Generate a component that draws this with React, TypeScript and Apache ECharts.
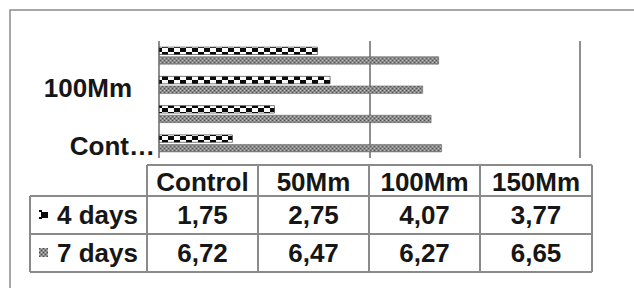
import React, { useEffect, useRef } from "react";
import * as echarts from "echarts";

const categories = ["Control", "50Mm", "100Mm", "150Mm"];
const seriesNames = ["4 days", "7 days"];
const days4 = [1.75, 2.75, 4.07, 3.77];
const days7 = [6.72, 6.47, 6.27, 6.65];
const xMin = 0;
const xMax = 10;
const xStep = 5;

function makeChecker(): HTMLCanvasElement {
  const c = document.createElement("canvas");
  c.width = 12;
  c.height = 8;
  const g = c.getContext("2d")!;
  g.fillStyle = "#ffffff";
  g.fillRect(0, 0, 12, 8);
  g.fillStyle = "#0a0a0a";
  g.fillRect(0, 0, 6, 4);
  g.fillRect(6, 4, 6, 4);
  return c;
}

function makeKey4(): HTMLCanvasElement {
  const c = document.createElement("canvas");
  c.width = 9;
  c.height = 9;
  const g = c.getContext("2d")!;
  g.fillStyle = "#ffffff";
  g.fillRect(0, 0, 9, 9);
  g.fillStyle = "#0a0a0a";
  g.fillRect(2, 2, 7, 6);
  g.fillRect(0, 0, 3, 2);
  g.fillRect(0, 7, 3, 2);
  return c;
}

function makeGray(): HTMLCanvasElement {
  const c = document.createElement("canvas");
  c.width = 4;
  c.height = 4;
  const g = c.getContext("2d")!;
  g.fillStyle = "#8a8a8a";
  g.fillRect(0, 0, 4, 4);
  g.fillStyle = "#505050";
  g.fillRect(0, 0, 1, 1);
  g.fillRect(2, 2, 1, 1);
  g.fillStyle = "#c0c0c0";
  g.fillRect(2, 0, 1, 1);
  g.fillRect(0, 2, 1, 1);
  return c;
}

const fmt = (v: number) => v.toFixed(2).replace(".", ",");

export default function App() {
  const ref = useRef<HTMLDivElement>(null);
  useEffect(() => {
    if (!ref.current) return;
    const chart = echarts.init(ref.current, null, { renderer: "svg" });
    const checker = { image: makeChecker(), repeat: "repeat" } as any;
    const key4 = { image: makeKey4(), repeat: "repeat" } as any;
    const gray = { image: makeGray(), repeat: "repeat" } as any;
    const font = "'Liberation Sans', Arial, sans-serif";
    const textColor = "#161616";
    const lineColor = "#8a8a8a";

    const colX = [147, 258, 369, 480, 592];
    const rowY = [165, 196, 234, 272];
    const tableLeft = 30;

    const graphics: any[] = [];
    graphics.push({
      type: "rect",
      shape: { x: 10, y: 10, width: 700, height: 400 },
      style: { fill: "none", stroke: "#8c8c8c", lineWidth: 1.5 },
      z: 1,
    });
    const L = (x1: number, y1: number, x2: number, y2: number) =>
      graphics.push({
        type: "line",
        shape: { x1, y1, x2, y2 },
        style: { stroke: lineColor, lineWidth: 2 },
        z: 5,
      });
    L(colX[0], rowY[0], colX[4], rowY[0]);
    for (let i = 1; i < rowY.length; i++) L(tableLeft, rowY[i], colX[4], rowY[i]);
    L(tableLeft, rowY[1], tableLeft, rowY[3]);
    colX.forEach((x) => L(x, rowY[0], x, rowY[3]));

    const T = (text: string, x: number, y: number, align: string) =>
      graphics.push({
        type: "text",
        x,
        y,
        style: {
          text,
          fill: textColor,
          font: `bold 26px ${font}`,
          align,
          verticalAlign: "middle",
        },
        z: 6,
      });
    categories.forEach((c, i) => T(c, (colX[i] + colX[i + 1]) / 2, (rowY[0] + rowY[1]) / 2 + 1, "center"));
    const rows = [days4, days7];
    rows.forEach((vals, r) => {
      const cy = (rowY[r + 1] + rowY[r + 2]) / 2;
      T(seriesNames[r], 57, cy, "left");
      vals.forEach((v, i) => T(fmt(v), (colX[i] + colX[i + 1]) / 2, cy, "center"));
      graphics.push({
        type: "rect",
        x: 39,
        y: cy - 5,
        shape: { x: 0, y: 0, width: 9, height: 9 },
        style: { fill: r === 0 ? key4 : gray },
        z: 6,
      });
    });

    chart.setOption({
      animation: false,
      backgroundColor: "#ffffff",
      grid: { left: 159, width: 421, top: 41, height: 117, containLabel: false },
      xAxis: {
        type: "value",
        min: xMin,
        max: xMax,
        interval: xStep,
        axisLabel: { show: false },
        axisLine: { show: false },
        axisTick: { show: false },
        splitLine: { show: true, lineStyle: { color: "#8e8e8e", width: 2 } },
      },
      yAxis: {
        type: "category",
        data: categories,
        axisLine: { show: false },
        axisTick: { show: false },
        axisLabel: {
          interval: 1,
          margin: 4,
          formatter: (v: string) => (v.length > 6 ? `{c|${v.slice(0, 4)}…}` : `{m|${v}}`),
          rich: {
            c: { fontSize: 26, fontWeight: "bold", fontFamily: font, color: textColor, padding: [6, 0, 0, 0] },
            m: { fontSize: 26, fontWeight: "bold", fontFamily: font, color: textColor, padding: [6, 23, 0, 0] },
          },
        },
      },
      series: [
        {
          name: seriesNames[0],
          type: "bar",
          data: days4,
          barWidth: 8,
          barGap: "20%",
          itemStyle: { color: checker, borderColor: "#222", borderWidth: 0.6 },
        },
        {
          name: seriesNames[1],
          type: "bar",
          data: days7,
          barWidth: 8,
          itemStyle: { color: gray, borderColor: "#666", borderWidth: 0.6 },
        },
      ],
      graphic: graphics,
    });
    return () => chart.dispose();
  }, []);
  return (
    <div
      ref={ref}
      style={{ position: "fixed", left: 0, top: 0, width: 634, height: 288 }}
    />
  );
}
